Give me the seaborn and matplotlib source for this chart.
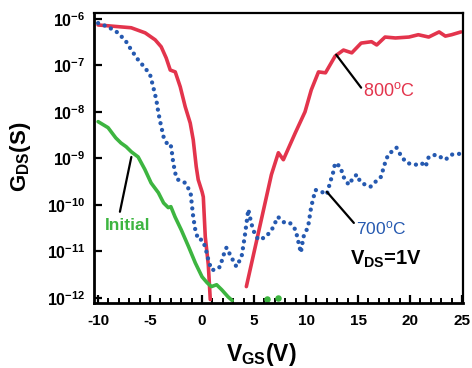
import numpy as np
import pandas as pd
import matplotlib
matplotlib.use("Agg")
import matplotlib.pyplot as plt
from matplotlib.ticker import MultipleLocator, FixedLocator
import seaborn as sns

# ---- data (V_GS in volts, log10 of G_DS in siemens) ----
v_800_left = [-10, -6.82, -5.47, -4.51, -3.93, -3.45, -3.06, -2.58, -2.1, -1.62, -1.14,
              -0.85, -0.56, -0.37, 0.0, 0.12, 0.31, 0.6, 0.79]
lg_800_left = [-6.13, -6.19, -6.3, -6.45, -6.6, -6.84, -7.1, -7.14, -7.46, -7.89, -8.24,
               -8.6, -9.18, -9.46, -9.72, -9.83, -10.69, -11.29, -12.04]

v_800_right = [4.26, 6.67, 7.34, 7.82, 8.97, 9.9, 10.5, 11.2, 11.87, 12.8, 13.6, 14.4, 15.3,
               16.3, 16.8, 17.6, 18.6, 19.9, 20.8, 21.8, 22.8, 23.4, 24.0, 24.9]
lg_800_right = [-11.76, -9.35, -8.88, -9.03, -8.45, -8.0, -7.53, -7.14, -7.16, -6.8, -6.67,
                -6.73, -6.52, -6.49, -6.56, -6.39, -6.41, -6.39, -6.34, -6.39, -6.28, -6.37,
                -6.34, -6.28]

v_700 = [-10, -9.04, -8.07, -7.3, -6.8, -6.15, -5.5, -5.0, -4.7, -4.4, -4.2, -4.0, -3.7, -3.4,
         -3.26, -2.97, -2.77, -2.5, -2.3, -1.6, -1.1, -1.0, -0.85, -0.65, -0.37, 0.0, 0.3, 0.6,
         0.9, 1.3, 1.75, 2.0, 2.35, 2.8, 3.3, 3.8, 4.1, 4.45, 4.6, 4.9, 5.4, 6.1, 6.7, 7.3, 8.0,
         8.5, 9.0, 9.5, 9.75, 10.2, 10.5, 10.9, 11.5, 12.0, 12.3, 12.6, 12.8, 13.3, 13.6, 13.8,
         14.1, 14.6, 14.9, 15.2, 15.7, 16.2, 16.7, 17.2, 17.6, 17.9, 18.7, 19.2, 19.7, 20.5,
         21.1, 21.5, 21.8, 22.5, 23.4, 24.0, 24.9]
lg_700 = [-6.09, -6.17, -6.3, -6.49, -6.67, -6.88, -7.05, -7.2, -7.46, -7.74, -8.02, -8.24,
          -8.54, -8.67, -8.65, -8.75, -9.1, -9.4, -9.46, -9.53, -9.74, -9.96, -10.26, -10.54,
          -10.75, -10.75, -10.9, -11.18, -11.4, -11.4, -11.33, -11.12, -10.92, -11.12, -11.33,
          -11.12, -10.69, -10.1, -10.26, -10.54, -10.75, -10.7, -10.54, -10.26, -10.4, -10.4,
          -10.54, -11.03, -10.69, -10.47, -10.04, -9.68, -9.72, -9.78, -9.53, -9.31, -9.1,
          -9.18, -9.4, -9.46, -9.57, -9.4, -9.35, -9.5, -9.57, -9.61, -9.5, -9.4, -9.1, -8.92,
          -8.77, -8.97, -9.1, -9.14, -9.1, -9.18, -8.97, -8.92, -9.03, -8.92, -8.9]

v_init = [-10, -9.04, -8.3, -7.8, -7.3, -6.8, -6.15, -5.5, -4.9, -4.2, -3.7, -3.25, -3.0, -2.6,
          -2.0, -1.3, -0.65, 0.0, 0.5, 0.9, 1.4, 1.9, 2.5, 2.9]
lg_init = [-8.21, -8.34, -8.56, -8.67, -8.75, -8.86, -8.97, -9.24, -9.53, -9.74, -9.96,
           -10.06, -10.04, -10.26, -10.54, -10.9, -11.25, -11.55, -11.68, -11.76, -11.72,
           -11.83, -11.98, -12.06]
v_init_dots = [6.2, 7.3]
lg_init_dots = [-12.02, -12.0]

x_ticks = [-10, -5, 0, 5, 10, 15, 20, 25]
y_exps = [-12, -11, -10, -9, -8, -7, -6]

RED = "#e3344c"
BLUE = "#2559b0"
GREEN = "#3db540"

sns.set_style("ticks")
plt.rcParams["font.family"] = ["Liberation Sans", "DejaVu Sans"]
plt.rcParams["mathtext.fontset"] = "custom"
plt.rcParams["mathtext.rm"] = "Liberation Sans"
plt.rcParams["mathtext.bf"] = "Liberation Sans:bold"
plt.rcParams["mathtext.it"] = "Liberation Sans:italic"
plt.rcParams["text.color"] = "black"
plt.rcParams["axes.labelcolor"] = "black"
plt.rcParams["xtick.color"] = "black"
plt.rcParams["ytick.color"] = "black"
plt.rcParams["axes.edgecolor"] = "black"

fig = plt.figure(figsize=(4.72, 3.68), dpi=100)
ax = fig.add_axes([0.199, 0.177, 0.782, 0.788])


def frame(v, lg):
    return pd.DataFrame({"V": v, "G": 10.0 ** np.asarray(lg)})


sns.lineplot(data=frame(v_800_left, lg_800_left), x="V", y="G", ax=ax, color=RED,
             lw=2.6, sort=False, estimator=None)
sns.lineplot(data=frame(v_800_right, lg_800_right), x="V", y="G", ax=ax, color=RED,
             lw=2.6, sort=False, estimator=None)
sns.lineplot(data=frame(v_init, lg_init), x="V", y="G", ax=ax, color=GREEN,
             lw=2.6, sort=False, estimator=None)
sns.scatterplot(data=frame(v_init_dots, lg_init_dots), x="V", y="G", ax=ax, color=GREEN,
                s=22, linewidth=0, clip_on=True)
sns.lineplot(data=frame(v_700, lg_700), x="V", y="G", ax=ax, color=BLUE,
             lw=3.1, sort=False, estimator=None)
line = ax.lines[-1]
line.set_dashes((0.01, 1.6))
line.set_dash_capstyle("round")

ax.set_yscale("log")
ax.set_xlim(-10.4, 25.1)
ax.set_ylim(10 ** -12.11, 10 ** -5.87)

ax.xaxis.set_major_locator(FixedLocator(x_ticks))
ax.xaxis.set_minor_locator(MultipleLocator(1))
ax.set_xticklabels([str(t) for t in x_ticks])
ax.yaxis.set_major_locator(FixedLocator([10.0 ** e for e in y_exps]))
ax.yaxis.set_minor_locator(FixedLocator([]))
ax.set_yticklabels([r"$\mathbf{10^{%d}}$" % e for e in y_exps])

ax.tick_params(axis="both", which="major", direction="in", length=6, width=1.6,
               labelsize=11.5, pad=6)
ax.tick_params(axis="x", which="major", labelsize=11, pad=8)
ax.tick_params(axis="x", which="minor", direction="in", length=3.5, width=1.4)
for lab in ax.get_xticklabels():
    lab.set_fontweight("bold")
for sp in ax.spines.values():
    sp.set_linewidth(1.6)
    sp.set_visible(True)
    sp.set_color("black")
ax.spines["left"].set_linewidth(2.0)
ax.spines["bottom"].set_linewidth(2.0)

ax.set_xlabel(r"$\mathbf{V_{GS}(V)}$", fontsize=16.5)
ax.set_ylabel(r"$\mathbf{G_{DS}(S)}$", fontsize=16)
ax.xaxis.set_label_coords(0.454, -0.133)
ax.yaxis.set_label_coords(-0.165, 0.505)

# annotations
ax.plot([12.9, 15.3], [10 ** -6.77, 10 ** -7.48], color="black", lw=1.6)
ax.text(15.5, 10 ** -7.55, r"800$^{\mathrm{o}}$C", color=RED, fontsize=13,
        ha="left", va="center")
ax.plot([12.0, 14.6], [10 ** -9.72, 10 ** -10.39], color="black", lw=1.6)
ax.text(14.8, 10 ** -10.5, r"700$^{\mathrm{o}}$C", color=BLUE, fontsize=12.5,
        ha="left", va="center")
ax.plot([-6.8, -7.9], [10 ** -8.97, 10 ** -10.15], color="black", lw=1.6)
ax.text(-9.3, 10 ** -10.45, "Initial", color=GREEN, fontsize=12.5, fontweight="bold",
        ha="left", va="center")
ax.text(14.2, 10 ** -11.17, r"$\mathbf{V_{DS}}$=1V", color="black", fontsize=14.5,
        fontweight="bold", ha="left", va="center")

fig.savefig("out.png", dpi=100)
